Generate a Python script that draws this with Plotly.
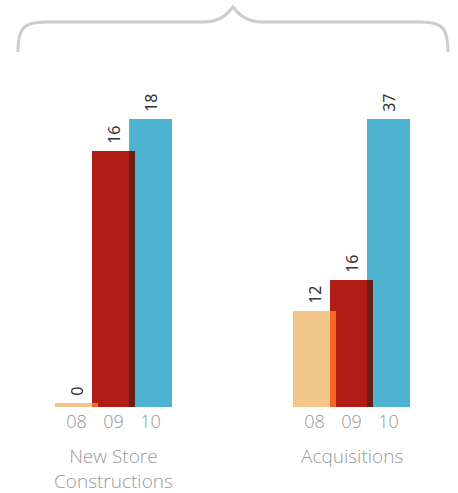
import plotly.graph_objects as go

# ---- data ----
groups = ["New Store<br>Constructions", "Acquisitions"]
years = ["08", "09", "10"]
new_store = [0, 16, 18]
acquisitions = [12, 16, 37]

bar_colors = ["#F2C68A", "#B21C17", "#4DB3D0"]
strip_colors = ["#F46A22", "#6A1E19"]

W, H = 458, 493
BASE_PX, TOP_PX, AX_TOP_PX = 407, 119, 95
PX_PER_UNIT = 37.0
BAR_W = 43 / PX_PER_UNIT
STRIP_W = (BAR_W - 1.0)
STUB_PX = 4

fig = go.Figure()

def add_group(vals, xa, ya, center0_px, dom_px):
    vmax = max(vals)
    d = STUB_PX * vmax / (BASE_PX - TOP_PX - STUB_PX)
    k = (BASE_PX - TOP_PX) / (vmax + d)
    x = [0, 1, 2]
    for i in range(3):
        fig.add_trace(go.Bar(
            x=[x[i]], y=[vals[i] + d], base=[-d], width=[BAR_W],
            marker=dict(color=bar_colors[i], line=dict(width=0)),
            text=["\u00a0" + str(vals[i])], textposition="outside", textangle=-90,
            textfont=dict(family="Noto Sans", size=16, color="#333333"),
            cliponaxis=False, xaxis=xa, yaxis=ya, showlegend=False,
            hoverinfo="skip"))
    for i in range(2):
        h = min(vals[i], vals[i + 1])
        fig.add_trace(go.Bar(
            x=[i + 0.5], y=[h + d], base=[-d], width=[STRIP_W],
            marker=dict(color=strip_colors[i], line=dict(width=0)),
            xaxis=xa, yaxis=ya, showlegend=False, hoverinfo="skip"))
    xr = [(dom_px[0] - center0_px) / PX_PER_UNIT, (dom_px[1] - center0_px) / PX_PER_UNIT]
    yr = [-d, -d + (BASE_PX - AX_TOP_PX) / k]
    return xr, yr

xr1, yr1 = add_group(new_store, "x", "y", 76.5, (10, 220))
xr2, yr2 = add_group(acquisitions, "x2", "y2", 314.5, (240, 450))

ydom = [(H - BASE_PX) / H, (H - AX_TOP_PX) / H]
tickfont = dict(family="Open Sans", size=18, color="#959595", weight=300)
common_x = dict(tickmode="array", tickvals=[0, 1, 2], ticktext=years,
                showgrid=False, zeroline=False, showline=False, ticks="",
                tickfont=tickfont, fixedrange=True, ticklabelstandoff=2)
common_y = dict(visible=False, showgrid=False, zeroline=False, fixedrange=True)

fig.update_layout(
    width=W, height=H,
    margin=dict(l=0, r=0, t=0, b=0),
    paper_bgcolor="white", plot_bgcolor="white",
    barmode="overlay", bargap=0,
    xaxis=dict(domain=[10 / W, 220 / W], range=xr1, anchor="y", **common_x),
    yaxis=dict(domain=ydom, range=yr1, anchor="x", **common_y),
    xaxis2=dict(domain=[240 / W, 450 / W], range=xr2, anchor="y2", **common_x),
    yaxis2=dict(domain=ydom, range=yr2, anchor="x2", **common_y),
)

# group labels
label_font = dict(family="Open Sans", size=19, color="#9a9a9a", weight=300)
fig.add_annotation(text=groups[0], x=1, xref="x", y=(H - 441) / H, yref="paper",
                   yanchor="top", showarrow=False, font=label_font, align="center")
fig.add_annotation(text=groups[1], x=1, xref="x2", y=(H - 441) / H, yref="paper",
                   yanchor="top", showarrow=False, font=label_font, align="center")

# decorative brace
def P(x, y):
    return f"{x / W:.5f},{1 - y / H:.5f}"

path = (f"M {P(18,52)} C {P(18,30)} {P(22,22)} {P(45,22)} L {P(203,22)} "
        f"C {P(218,22)} {P(226,16)} {P(233,7)} C {P(240,16)} {P(248,22)} {P(263,22)} "
        f"L {P(421,22)} C {P(444,22)} {P(448,30)} {P(448,52)}")
fig.add_shape(type="path", path=path, xref="paper", yref="paper",
              line=dict(color="#cccccc", width=3))

fig.write_html("out.html")
